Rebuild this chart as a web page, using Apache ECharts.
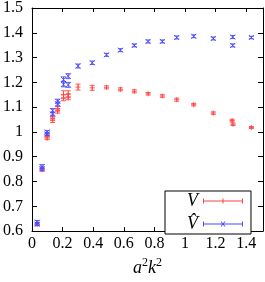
<!DOCTYPE html>
<html><head><meta charset="utf-8">
<script src="https://cdn.jsdelivr.net/npm/echarts@6/dist/echarts.min.js"></script>
<style>html,body{margin:0;padding:0;background:#fff}#c{width:265px;height:282px}</style>
</head><body><div id="c"></div>
<script>
// V series: x = a^2 k^2, y value, error
const vX   = [0.034,0.066,0.099,0.099,0.135,0.135,0.168,0.168,0.206,0.206,0.237,0.237,0.301,0.394,0.487,0.578,0.669,0.759,0.852,0.946,1.057,1.185,1.308,1.314,1.434];
const vY   = [0.628,0.848,0.985,0.975,1.060,1.046,1.095,1.084,1.150,1.138,1.152,1.142,1.181,1.178,1.180,1.172,1.164,1.154,1.145,1.130,1.110,1.076,1.046,1.031,1.018];
const vErr = [0.006,0.007,0.006,0.006,0.008,0.008,0.008,0.008,0.016,0.012,0.014,0.012,0.012,0.010,0.006,0.006,0.006,0.005,0.005,0.006,0.005,0.005,0.005,0.005,0.004];
// V-hat series
const hX   = [0.034,0.034,0.066,0.066,0.099,0.099,0.135,0.135,0.168,0.168,0.206,0.206,0.237,0.237,0.301,0.394,0.487,0.578,0.669,0.759,0.852,0.946,1.057,1.185,1.312,1.312,1.434];
const hY   = [0.636,0.628,0.860,0.852,1.000,0.992,1.086,1.072,1.124,1.113,1.212,1.192,1.225,1.190,1.266,1.279,1.311,1.330,1.349,1.365,1.365,1.381,1.386,1.377,1.383,1.349,1.381];
const hErr = [0.007,0.006,0.008,0.007,0.006,0.006,0.008,0.008,0.008,0.008,0.010,0.010,0.010,0.010,0.008,0.007,0.006,0.006,0.006,0.006,0.006,0.006,0.006,0.006,0.006,0.006,0.005];
const xTicks = [0,0.2,0.4,0.6,0.8,1,1.2,1.4];
const yTicks = [0.6,0.7,0.8,0.9,1,1.1,1.2,1.3,1.4,1.5];
const names = ['V','V\u0302'];

const RED = '#ff4545', BLUE = '#4a4aff';
const FONT = 'Liberation Serif';

function mk(xs, ys, es){ return xs.map((x,i)=>[x, ys[i], es[i]]); }

function renderer(kind, color){
  return function(params, api){
    const x = api.value(0), y = api.value(1), e = api.value(2);
    const p = api.coord([x,y]);
    const t = api.coord([x,y+e]);
    const b = api.coord([x,y-e]);
    const c = 2.5, m = 2.5;
    const st = {stroke: color, lineWidth: 0.9, fill: null};
    const lines = [
      [p[0],t[1],p[0],b[1]],
      [p[0]-c,t[1],p[0]+c,t[1]],
      [p[0]-c,b[1],p[0]+c,b[1]]
    ];
    if(kind==='plus'){
      lines.push([p[0]-m,p[1],p[0]+m,p[1]]);
      lines.push([p[0],p[1]-m,p[0],p[1]+m]);
    } else {
      lines.push([p[0]-m,p[1]-m,p[0]+m,p[1]+m]);
      lines.push([p[0]-m,p[1]+m,p[0]+m,p[1]-m]);
    }
    return {type:'group', children: lines.map(l=>({type:'line', shape:{x1:l[0],y1:l[1],x2:l[2],y2:l[3]}, style: st}))};
  };
}

const redIcon = 'path://M0,4.5H40V5.5H0Z M0,2.5H1V7.5H0Z M39,2.5H40V7.5H39Z M19.5,2.5H20.5V7.5H19.5Z';
const blueIcon = 'path://M0,4.5H40V5.5H0Z M0,2.5H1V7.5H0Z M39,2.5H40V7.5H39Z M17.5,2.5L18.5,2.5L22.5,7.5L21.5,7.5Z M21.5,2.5L22.5,2.5L18.5,7.5L17.5,7.5Z';

const axisLineStyle = {color:'#000', width:1};
const chart = echarts.init(document.getElementById('c'), null, {renderer:'canvas'});
chart.setOption({
  animation:false,
  grid:{left:29, right:2, top:7, bottom:39, containLabel:false},
  xAxis:[
    {type:'value', min:0, max:1.51, position:'bottom',
     axisLine:{show:true, onZero:false, lineStyle:axisLineStyle},
     axisTick:{show:true, inside:true, length:4, customValues:xTicks, lineStyle:axisLineStyle},
     axisLabel:{show:true, customValues:xTicks, margin:5, color:'#000', fontFamily:FONT, fontSize:16},
     splitLine:{show:false},
     name:'{i|a}{s|2}{i|k}{s|2}', nameLocation:'middle', nameGap:24,
     nameTextStyle:{rich:{
       i:{fontFamily:FONT, fontStyle:'italic', fontSize:18, color:'#000', lineHeight:20, verticalAlign:'bottom'},
       s:{fontFamily:FONT, fontSize:12, color:'#000', lineHeight:20, verticalAlign:'top'}
     }}},
    {type:'value', min:0, max:1.51, position:'top',
     axisLine:{show:true, onZero:false, lineStyle:axisLineStyle},
     axisTick:{show:true, inside:true, length:4, customValues:xTicks, lineStyle:axisLineStyle},
     axisLabel:{show:false}, splitLine:{show:false}}
  ],
  yAxis:[
    {type:'value', min:0.6, max:1.5, interval:0.1, position:'left',
     axisLine:{show:true, onZero:false, lineStyle:axisLineStyle},
     axisTick:{show:true, inside:true, length:5, lineStyle:axisLineStyle},
     axisLabel:{show:true, margin:9, color:'#000', fontFamily:FONT, fontSize:16},
     splitLine:{show:false}},
    {type:'value', min:0.6, max:1.5, interval:0.1, position:'right',
     axisLine:{show:true, onZero:false, lineStyle:axisLineStyle},
     axisTick:{show:true, inside:true, length:5, lineStyle:axisLineStyle},
     axisLabel:{show:false}, splitLine:{show:false}}
  ],
  legend:{
    orient:'vertical', align:'right', left:165, top:191,
    padding:[1,8,1,22], itemGap:5, itemWidth:40, itemHeight:5,
    borderColor:'#000', borderWidth:1, backgroundColor:'#fff',
    textStyle:{fontFamily:FONT, fontStyle:'italic', fontSize:18, color:'#000', lineHeight:16},
    data:[{name:names[0], icon:redIcon},{name:names[1], icon:blueIcon}]
  },
  series:[
    {type:'custom', name:names[0], xAxisIndex:0, yAxisIndex:0, data:mk(vX,vY,vErr),
     encode:{x:0,y:1}, itemStyle:{color:RED}, renderItem:renderer('plus',RED), z:3},
    {type:'custom', name:names[1], xAxisIndex:0, yAxisIndex:0, data:mk(hX,hY,hErr),
     encode:{x:0,y:1}, itemStyle:{color:BLUE}, renderItem:renderer('cross',BLUE), z:4}
  ]
});
</script></body></html>
